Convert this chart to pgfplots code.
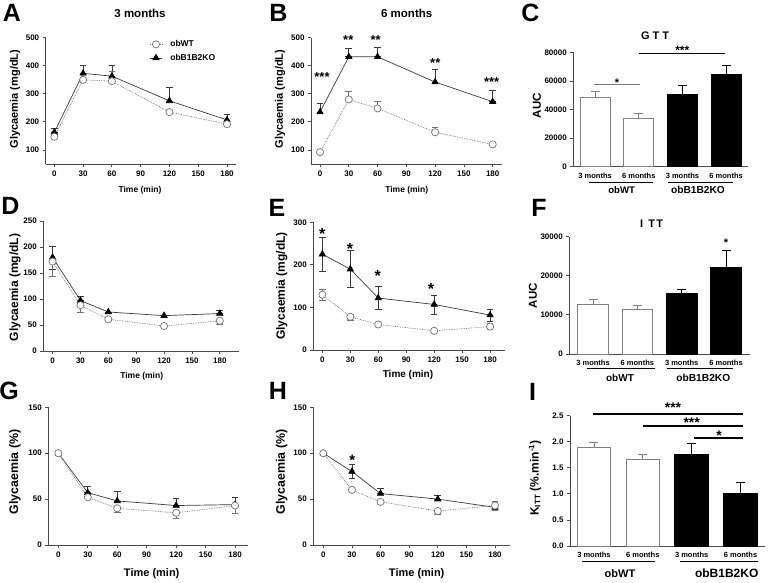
\documentclass[border=0pt]{standalone}
\usepackage{fontspec}
\setmainfont{Liberation Sans}
\usepackage{pgfplots}
\usepackage{pgfplotstable}
\pgfplotsset{compat=1.18}
\definecolor{axgray}{HTML}{4A4A4A}
\definecolor{wtgray}{HTML}{707070}
\definecolor{kogray}{HTML}{3A3A3A}
\newcommand{\fs}[1]{\fontsize{#1}{#1}\selectfont\bfseries}

% ---- data: glucose tolerance (mg/dL), insulin tolerance (mg/dL, %) ----
% columns: time, mean, error up, error down
\pgfplotstableread{
x y ep em
0 147 8 0
30 350 8 0
60 345 35 0
120 235 8 0
180 192 8 0
}\aWT
\pgfplotstableread{
x y ep em
0 163 14 0
30 373 27 0
60 363 40 0
120 275 50 0
180 207 21 0
}\aKO
\pgfplotstableread{
x y ep em
0 92 0 0
30 280 28 0
60 248 27 0
120 163 17 0
180 120 0 0
}\bWT
\pgfplotstableread{
x y ep em
0 235 30 0
30 432 31 0
60 432 33 0
120 342 46 0
180 272 40 0
}\bKO
\pgfplotstableread{
x y ep em
0 172 0 29
30 88 0 14
60 61 0 0
120 48 0 0
180 58 0 6
}\dWT
\pgfplotstableread{
x y ep em
0 180 22 22
30 97 9 0
60 75 0 0
120 68 0 0
180 72 7 0
}\dKO
\pgfplotstableread{
x y ep em
0 130 12 13
30 78 7 8
60 60 0 0
120 45 0 0
180 55 7 7
}\eWT
\pgfplotstableread{
x y ep em
0 225 40 39
30 190 45 42
60 122 28 27
120 107 21 22
180 82 13 14
}\eKO
\pgfplotstableread{
x y ep em
0 100 0 0
30 52 0 0
60 40 0 4
120 35 0 6
180 43 0 8
}\gWT
\pgfplotstableread{
x y ep em
0 100 0 0
30 57 7 0
60 48 10 0
120 43 8 0
180 44 8 0
}\gKO
\pgfplotstableread{
x y ep em
0 100 0 0
30 60 0 0
60 47 0 0
120 37 0 4
180 43 5 5
}\hWT
\pgfplotstableread{
x y ep em
0 100 0 0
30 80 8 7
60 56 6 0
120 50 4 0
180 41 0 0
}\hKO
% bars: AUC GTT, AUC ITT, KITT
\pgfplotstableread{
x y e
0 48200 4700
1 34000 3000
}\cWT
\pgfplotstableread{
x y e
2 50600 6000
3 64800 6300
}\cKO
\pgfplotstableread{
x y e
0 12800 1200
1 11400 1050
}\fWT
\pgfplotstableread{
x y e
2 15400 1000
3 22200 4400
}\fKO
\pgfplotstableread{
x y e
0 1.89 0.09
1 1.67 0.08
}\iWT
\pgfplotstableread{
x y e
2 1.75 0.22
3 1.00 0.22
}\iKO

\pgfplotsset{
  gp/.style={scale only axis, anchor=south west, clip=false,
    axis x line*=bottom, axis y line*=left,
    axis line style={draw=axgray, line width=0.8pt, -},
    every tick/.style={draw=axgray, line width=0.8pt},
    tick align=outside, major tick length=3pt,
    ticklabel style={font=\fs{8}},
    /pgf/number format/assume math mode=true,
    /pgf/number format/1000 sep={},
    scaled ticks=false},
  gpline/.style={gp, xtick={0,30,...,180}},
  gpbar/.style={gp, xmin=-0.5, xmax=3.5, ymin=0, xtick={0,1,2,3},
    xticklabels={3 months,6 months,3 months,6 months},
    major x tick style={draw=none}, xticklabel style={font=\fs{7.5}}},
  kol/.style={kogray, line width=0.7pt, mark=triangle*, mark size=3.6pt,
    mark options={fill=black, draw=black, solid}},
  wtl/.style={wtgray, densely dotted, line width=0.7pt, mark=*, mark size=3.6pt,
    mark options={fill=white, draw=wtgray, solid, line width=0.7pt}},
  ko/.style={kol, error bars/y dir=both, error bars/y explicit,
    error bars/error bar style={kogray, line width=0.6pt, solid},
    error bars/error mark options={rotate=90, mark size=3.3pt, kogray, line width=0.6pt, solid}},
  wt/.style={wtl, error bars/y dir=both, error bars/y explicit,
    error bars/error bar style={wtgray, line width=0.6pt, solid},
    error bars/error mark options={rotate=90, mark size=3.3pt, wtgray, line width=0.6pt, solid}},
  wtbar/.style={ybar, bar width=0.69, bar shift=0pt, fill=white, draw=gray,
    line width=0.8pt, error bars/y dir=plus, error bars/y explicit,
    error bars/error bar style={gray, line width=0.8pt},
    error bars/error mark options={rotate=90, mark size=4.5pt, gray, line width=0.8pt}},
  kobar/.style={ybar, bar width=0.69, bar shift=0pt, fill=black, draw=black,
    line width=0.8pt, error bars/y dir=plus, error bars/y explicit,
    error bars/error bar style={black, line width=0.8pt},
    error bars/error mark options={rotate=90, mark size=4.5pt, black, line width=0.8pt}},
}
\newcommand{\lineplots}[2]{%
  \addplot[ko, forget plot] table[x=x, y=y, y error plus=ep, y error minus=em] {#2};
  \addplot[wt, forget plot] table[x=x, y=y, y error plus=ep, y error minus=em] {#1};
}

\begin{document}
\begin{tikzpicture}[x=1pt, y=1pt]
\useasboundingbox (0,0) rectangle (769,582);

% ---------------- A ----------------
\begin{axis}[gpline, at={(45.7pt,418pt)}, width=190.3pt, height=126.3pt,
  xmin=-9, xmax=189.4, ymin=50, ymax=500, ytick={100,200,...,500},
  legend style={at={(0.545,0.995)}, anchor=north west, draw=none, fill=none,
    font=\fs{8.5}, row sep=2pt, column sep=6pt, inner sep=0pt},
  legend cell align=left,
  legend image code/.code={\draw[mark repeat=2, mark phase=2, #1]
    plot coordinates {(0pt,0pt) (6pt,0pt) (12pt,0pt)};}]
\addlegendimage{wtl}\addlegendentry{obWT}
\addlegendimage{kol}\addlegendentry{obB1B2KO}
\lineplots{\aWT}{\aKO}
\end{axis}

% ---------------- B ----------------
\begin{axis}[gpline, at={(311pt,418pt)}, width=190.7pt, height=126.3pt,
  xmin=-9.4, xmax=189.4, ymin=50, ymax=500, ytick={100,200,...,500}]
\lineplots{\bWT}{\bKO}
\end{axis}

% ---------------- C ----------------
\begin{axis}[gpbar, at={(573.3pt,415.3pt)}, width=174.7pt, height=114.4pt,
  ymax=80000, ytick={0,20000,...,80000}]
\addplot[wtbar] table[x=x, y=y, y error=e] {\cWT};
\addplot[kobar] table[x=x, y=y, y error=e] {\cKO};
\end{axis}

% ---------------- D ----------------
\begin{axis}[gpline, at={(43.3pt,231pt)}, width=196pt, height=130pt,
  xmin=-10, xmax=201, ymin=0, ymax=250, ytick={0,50,...,250}]
\lineplots{\dWT}{\dKO}
\end{axis}

% ---------------- E ----------------
\begin{axis}[gpline, at={(313.3pt,232pt)}, width=191.7pt, height=127.7pt,
  xmin=-9.7, xmax=196, ymin=0, ymax=300, ytick={0,100,200,300}]
\lineplots{\eWT}{\eKO}
\end{axis}

% ---------------- F ----------------
\begin{axis}[gpbar, at={(569.3pt,228pt)}, width=180.7pt, height=117.3pt,
  xmin=-0.535, xmax=3.54, ymax=30000, ytick={0,10000,20000,30000}]
\addplot[wtbar] table[x=x, y=y, y error=e] {\fWT};
\addplot[kobar] table[x=x, y=y, y error=e] {\fKO};
\end{axis}

% ---------------- G ----------------
\begin{axis}[gpline, at={(48.3pt,37pt)}, width=200pt, height=137.7pt,
  xmin=-10.2, xmax=193.5, ymin=0, ymax=150, ytick={0,50,100,150}]
\lineplots{\gWT}{\gKO}
\end{axis}

% ---------------- H ----------------
\begin{axis}[gpline, at={(313.3pt,37pt)}, width=196.7pt, height=137.7pt,
  xmin=-10.5, xmax=195.7, ymin=0, ymax=150, ytick={0,50,100,150}]
\lineplots{\hWT}{\hKO}
\end{axis}

% ---------------- I ----------------
\begin{axis}[gpbar, at={(570pt,36pt)}, width=195pt, height=130.3pt,
  xmin=-0.49, xmax=3.5, ymax=2.5, ytick={0,0.5,...,2.5},
  yticklabel style={/pgf/number format/.cd, fixed, fixed zerofill, precision=1}]
\addplot[wtbar] table[x=x, y=y, y error=e] {\iWT};
\addplot[kobar] table[x=x, y=y, y error=e] {\iKO};
\end{axis}

% panel letters
\foreach \l/\px/\py in {A/12/569.5, B/278.5/569.5, C/530.5/569.5,
    D/10.5/376, E/277/374, F/539/374.5, G/9/191, H/278/191, I/532.5/190}
  \node[font=\fs{25}] at (\px,\py) {\l};

% titles
\node[font=\fs{11.5}] at (140,569) {3 months};
\node[font=\fs{11.5}] at (406.7,569) {6 months};
\node[font=\fs{11}] at (655,546.3) {G\hspace{3pt}T\hspace{3pt}T};
\node[font=\fs{11}] at (651.7,358.7) {I\hspace{5pt}T\hspace{1.5pt}T};

% y labels
\node[font=\fs{11}, rotate=90] at (15,483) {Glycaemia (mg/dL)};
\node[font=\fs{11}, rotate=90] at (280,483) {Glycaemia (mg/dL)};
\node[font=\fs{11.5}, rotate=90] at (537,476.3) {AUC};
\node[font=\fs{12}, rotate=90] at (15,294.5) {Glycaemia (mg/dL)};
\node[font=\fs{12}, rotate=90] at (281.7,296) {Glycaemia (mg/dL)};
\node[font=\fs{11.5}, rotate=90] at (533,286.3) {AUC};
\node[font=\fs{12.4}, rotate=90] at (15,110) {Glycaemia (\%)};
\node[font=\fs{12.4}, rotate=90] at (281.7,110) {Glycaemia (\%)};
\node[font=\fs{12}, rotate=90] at (535,104) {K\textsubscript{ITT} (\%.min\textsuperscript{-1})};

% x labels
\node[font=\fs{8.5}] at (140,392) {Time (min)};
\node[font=\fs{8.5}] at (406.7,392) {Time (min)};
\node[font=\fs{8.5}] at (141.7,205.3) {Time (min)};
\node[font=\fs{10}] at (408,207) {Time (min)};
\node[font=\fs{11}] at (151.7,8.7) {Time (min)};
\node[font=\fs{11}] at (416.7,8.7) {Time (min)};

% group lines and labels under bars
\draw[black, line width=0.8pt] (589,400) -- (653,400) (668,400) -- (733,400);
\node[font=\fs{9.6}] at (621.7,392) {obWT};
\node[font=\fs{10.2}] at (698,392) {obB1B2KO};
\draw[black, line width=0.8pt] (586.7,213.7) -- (655,213.7) (666.7,213.7) -- (733.3,213.7);
\node[font=\fs{10}] at (620,203.7) {obWT};
\node[font=\fs{10.2}] at (703.3,203.7) {obB1B2KO};
\draw[black, line width=0.9pt] (581.7,20.3) -- (655,20.3) (680,20.3) -- (758.3,20.3);
\node[font=\fs{11}] at (620,8.7) {obWT};
\node[font=\fs{12}] at (726.7,8.7) {obB1B2KO};

% significance
\node[font=\fs{13}] at (322,505) {***};
\node[font=\fs{13}] at (348.3,541.5) {**};
\node[font=\fs{13}] at (375.7,541.5) {**};
\node[font=\fs{13}] at (435.3,519) {**};
\node[font=\fs{13}] at (491.7,500) {***};
\draw[gray, line width=1pt] (594,497.7) -- (640,497.7);
\node[font=\fs{11}] at (617,499.5) {*};
\draw[black, line width=1pt] (639,528.7) -- (725,528.7);
\node[font=\fs{12}] at (682.3,531.6) {***};
\node[font=\fs{16}] at (322.3,348.5) {*};
\node[font=\fs{16}] at (350,333.5) {*};
\node[font=\fs{16}] at (377.7,305.8) {*};
\node[font=\fs{16}] at (431,292.8) {*};
\node[font=\fs{11}] at (726,339.5) {*};
\node[font=\fs{15}] at (352.3,122) {*};
\draw[black, line width=2pt] (592.7,168.3) -- (743.3,168.3);
\draw[black, line width=2pt] (642.7,155.7) -- (743.3,155.7);
\draw[black, line width=2pt] (694,143.7) -- (743.3,143.7);
\node[font=\fs{14}] at (673,174.6) {***};
\node[font=\fs{14}] at (691.7,159) {***};
\node[font=\fs{14}] at (719,146.6) {*};
\end{tikzpicture}
\end{document}
